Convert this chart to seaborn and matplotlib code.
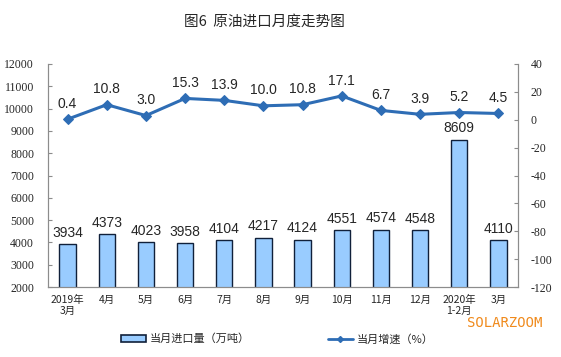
import matplotlib
matplotlib.use("Agg")
import numpy as np
import pandas as pd
import seaborn as sns
import matplotlib.pyplot as plt
from matplotlib.patches import Patch
from matplotlib.lines import Line2D

months = ["2019年\n3月", "4月", "5月", "6月", "7月", "8月", "9月",
          "10月", "11月", "12月", "2020年\n1-2月", "3月"]
imports = [3934, 4373, 4023, 3958, 4104, 4217, 4124, 4551, 4574, 4548, 8609, 4110]
growth = [0.4, 10.8, 3.0, 15.3, 13.9, 10.0, 10.8, 17.1, 6.7, 3.9, 5.2, 4.5]

BAR_COLOR = "#99CCFF"
LINE_COLOR = "#2E6DB5"
CJK = ["Noto Sans CJK SC", "DejaVu Sans"]

sns.set_style("white")
plt.rcParams["font.family"] = CJK
plt.rcParams["axes.unicode_minus"] = False

df = pd.DataFrame({"month": months, "imports": imports, "growth": growth})
df["pos"] = np.arange(len(df))

fig = plt.figure(figsize=(5.61, 3.57), dpi=100)
ax = fig.add_axes([48 / 561, 1 - 287 / 357, 470 / 561, 223 / 357])

sns.barplot(data=df, x="month", y="imports", color=BAR_COLOR, width=0.42,
            edgecolor="#10203A", linewidth=1.0, saturation=1, ax=ax)
ax.set_ylim(2000, 12000)
ax.set_yticks(range(2000, 12001, 1000))
ax.set_xlim(-0.5, len(df) - 0.5)
ax.set_xlabel("")
ax.set_ylabel("")
for x, v in zip(df["pos"], df["imports"]):
    ax.annotate(str(v), (x, v), xytext=(0, 3), textcoords="offset points",
                ha="center", va="bottom", fontsize=10, family="Liberation Sans")

ax2 = ax.twinx()
sns.lineplot(data=df, x="pos", y="growth", color=LINE_COLOR, linewidth=2.2,
             marker="D", markersize=5, markeredgecolor=LINE_COLOR, ax=ax2)
ax2.set_ylim(-120, 40)
ax2.set_yticks(range(-120, 41, 20))
ax2.set_ylabel("")
ax2.set_xlim(-0.5, len(df) - 0.5)
for x, v in zip(df["pos"], df["growth"]):
    ax2.annotate(f"{v:.1f}", (x, v), xytext=(0, 6), textcoords="offset points",
                 ha="center", va="bottom", fontsize=10, family="Liberation Sans")

# spines and ticks
for a in (ax, ax2):
    a.spines["top"].set_visible(False)
    for s in ("left", "right", "bottom"):
        a.spines[s].set_color("#8C8C8C")
        a.spines[s].set_linewidth(0.8)
    a.grid(False)

ax.set_xticks(np.arange(len(df)))
ax.set_xticklabels(months, fontsize=7.5, family=CJK, linespacing=1.1)
ax.set_xticks(np.arange(len(df) + 1) - 0.5, minor=True)
ax.tick_params(axis="x", which="major", length=0, pad=6)
ax.tick_params(axis="x", which="minor", direction="in", length=3, color="#8C8C8C")
ax.tick_params(axis="y", direction="in", length=3, color="#8C8C8C", pad=10,
               labelsize=8.5)
ax2.tick_params(axis="y", direction="in", length=3, color="#8C8C8C", pad=9,
                labelsize=8.5)
for lab in ax.get_yticklabels() + ax2.get_yticklabels():
    lab.set_family("Liberation Serif")

fig.text(0.472, 1 - 22 / 357, "图6  原油进口月度走势图", ha="center", va="center",
         fontsize=10.5, family=CJK)

handles = [Patch(facecolor=BAR_COLOR, edgecolor="#10203A", linewidth=1.2),
           Line2D([0], [0], color=LINE_COLOR, linewidth=2, marker="D", markersize=3)]
fig.legend(handles, ["当月进口量（万吨）", "当月增速（%）"], loc="center",
           bbox_to_anchor=(0.494, 1 - 339 / 357), ncol=2, frameon=False,
           handlelength=2.3, handleheight=0.6, columnspacing=7,
           handletextpad=0.3, prop={"family": CJK, "size": 8})

fig.text(542 / 561, 1 - 323 / 357, "SOLARZOOM", ha="right", va="center",
         fontsize=10, color="#F08A1C", family="DejaVu Sans Mono")

fig.savefig("out.png", dpi=100)
